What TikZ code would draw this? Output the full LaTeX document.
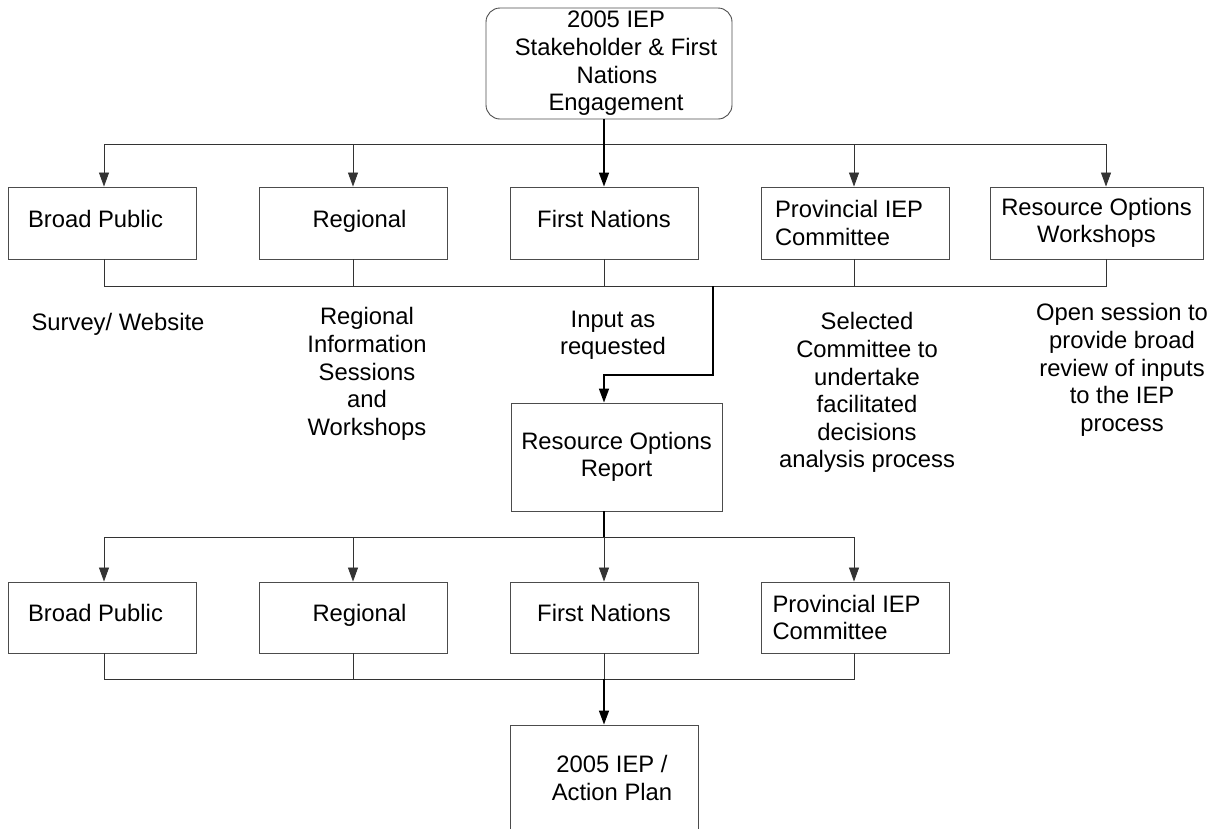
\documentclass[tikz,border=0pt]{standalone}
\usepackage{fontspec}
\setmainfont{Liberation Sans}
\usetikzlibrary{arrows.meta}
\begin{document}
\begin{tikzpicture}[x=1pt,y=-1pt,
  every node/.style={font=\fontsize{23.8}{27.6}\selectfont, inner sep=0pt},
  box/.style={draw=black!70, line width=0.9pt, minimum width=188pt},
  one/.style={text height=16pt, text depth=8pt},
  rowA/.style={box, minimum height=72pt},
  rowB/.style={box, minimum height=71pt},
  lbox/.style={align=flush left, text width=#1, inner xsep=14pt},
  lab/.style={align=center, anchor=north},
  thin/.style={draw=black!80, line width=0.8pt},
  thick/.style={draw=black, line width=1.5pt},
  arr/.style={thin, -{Triangle[length=14pt,width=10pt]}},
  arrb/.style={thick, -{Triangle[length=14pt,width=10pt]}}
]
\path[use as bounding box, clip] (0,0) rectangle (1212,828);

% top box
\node[draw=black!70, line width=0.9pt, rounded corners=14pt, minimum width=246pt, minimum height=111pt, align=center]
  (top) at (609,63.5) {\hspace*{14pt}2005 IEP\\\hspace*{14pt}Stakeholder \& First\\\hspace*{16pt}Nations\\\hspace*{14pt}Engagement};

% row 1
\node[rowA, one] (bp1) at (102.5,223) {Broad Public\hspace*{14pt}};
\node[rowA, one] (reg1) at (353.5,223) {\hspace*{12pt}Regional};
\node[rowA, one] (fn1) at (604,223) {First Nations};
\node[rowA, lbox=160pt] (pro1) at (855,223) {Provincial IEP\\Committee};
\node[rowA, minimum width=213pt, align=center] (row1) at (1096.5,223) {Resource Options\\Workshops};

% descriptions
\node[anchor=base] (d1) at (118,330) {Survey/ Website};
\node[lab] (d2) at (367,307.5) {Regional\\Information\\Sessions\\and\\Workshops};
\node[lab] (d3) at (613,310.5) {Input as\\requested};
\node[lab] (d4) at (867,312.5) {Selected\\Committee to\\undertake\\facilitated\\decisions\\analysis process};
\node[lab] (d5) at (1122,303.5) {Open session to\\provide broad\\review of inputs\\to the IEP\\process};

% report
\node[box, minimum width=211pt, minimum height=108pt, align=center] (ror) at (616.5,457) {Resource Options\\Report};

% row 2
\node[rowB, one] (bp2) at (102.5,617.5) {Broad Public\hspace*{14pt}};
\node[rowB, one] (reg2) at (353.5,617.5) {\hspace*{12pt}Regional};
\node[rowB, one] (fn2) at (604,617.5) {First Nations};
\node[rowB, lbox=160pt, inner xsep=11pt, text width=166pt] (pro2) at (855.5,617.5) {Provincial IEP\\Committee};

% final box (bottom edge cut off by the page)
\node[box, minimum height=106pt, align=center] (plan) at (604,778) {\hspace*{16pt}2005 IEP /\\\hspace*{16pt}Action Plan};

% bus coordinates
\coordinate (t1) at (104,144);
\coordinate (t2) at (353,144);
\coordinate (t4) at (854,144);
\coordinate (t5) at (1106,144);
\coordinate (u1) at (104,286);
\coordinate (u2) at (353,286);
\coordinate (u3) at (604,286);
\coordinate (u4) at (854,286);
\coordinate (u5) at (1106,286);
\coordinate (j) at (713,286);
\coordinate (k) at (713,375);
\coordinate (v1) at (104,537);
\coordinate (v2) at (353,537);
\coordinate (v3) at (604,537);
\coordinate (v4) at (854,537);
\coordinate (w1) at (104,679);
\coordinate (w2) at (353,679);
\coordinate (w3) at (604,679);
\coordinate (w4) at (854,679);

% top fan-out
\draw[thin] (t1) -- (t5);
\draw[arr] (t1) -- (t1 |- bp1.north);
\draw[arr] (t2) -- (t2 |- reg1.north);
\draw[arr] (t4) -- (t4 |- pro1.north);
\draw[arr] (t5) -- (t5 |- row1.north);
\draw[arrb] (top.south -| fn1.north) -- (fn1.north);

% row 1 collect
\draw[thin] (bp1.south -| u1) -- (u1) -- (u5) -- (row1.south -| u5);
\draw[thin] (reg1.south -| u2) -- (u2);
\draw[thin] (fn1.south) -- (u3);
\draw[thin] (pro1.south -| u4) -- (u4);
\draw[arrb] (j) -- (k) -| (ror.north -| fn1.north);

% report fan-out
\draw[thick] (ror.south -| v3) -- (v3);
\draw[thin] (v1) -- (v4);
\draw[arr] (v1) -- (v1 |- bp2.north);
\draw[arr] (v2) -- (v2 |- reg2.north);
\draw[arr] (v3) -- (fn2.north);
\draw[arr] (v4) -- (v4 |- pro2.north);

% row 2 collect
\draw[thin] (bp2.south -| w1) -- (w1) -- (w4) -- (pro2.south -| w4);
\draw[thin] (reg2.south -| w2) -- (w2);
\draw[thin] (fn2.south) -- (w3);
\draw[arrb] (w3) -- (plan.north -| w3);
\end{tikzpicture}
\end{document}
